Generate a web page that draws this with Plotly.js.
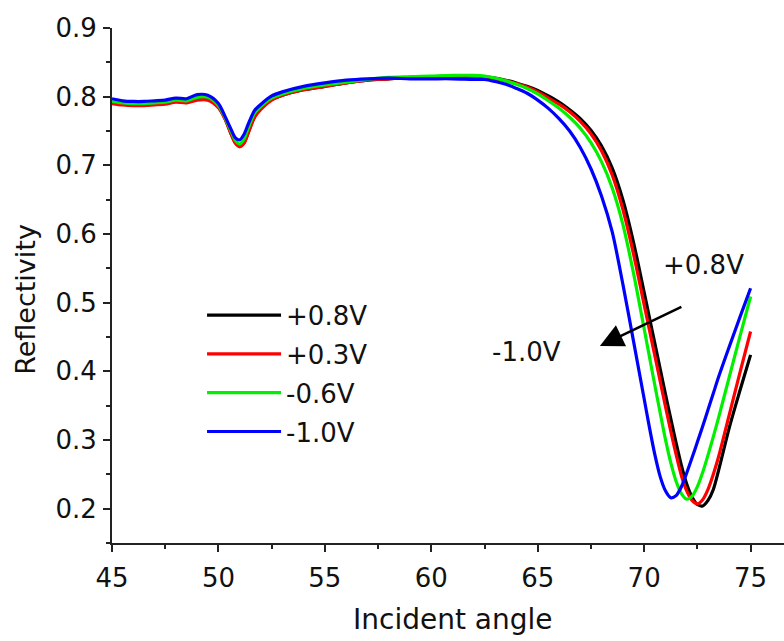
<!DOCTYPE html>
<html>
<head>
<meta charset="utf-8">
<script src="https://cdn.plot.ly/plotly-3.0.1.min.js"></script>
<style>
html,body{margin:0;padding:0;background:#fff;}
#chart{width:784px;height:641px;}
</style>
</head>
<body>
<div id="chart"></div>
<script>
// Incident angle (degrees), shared by all series
const angle = [45,45.5,46,46.5,47,47.5,48,48.5,49,49.5,50,
  50.3,50.6,50.8,51,51.2,51.4,51.7,52,52.5,
  53,54,55,56,57,58,59,60,61,62,
  62.5,63,63.5,64,64.5,65,65.5,66,66.5,67,67.5,68,68.5,69,69.5,70,
  70.25,70.5,70.75,71,71.25,71.5,71.75,72,72.25,72.5,72.75,73,73.25,73.5,
  74,74.5,75];

const seriesNames = ["+0.8V","+0.3V","-0.6V","-1.0V"];
const seriesColors = ["#000000","#ff0000","#00f000","#0000ff"];

const refl_p08 = [0.791,0.789,0.788,0.788,0.789,0.790,0.793,0.792,0.796,0.796,0.785,
  0.769,0.746,0.733,0.728,0.733,0.748,0.771,0.783,0.796,
  0.802,0.810,0.815,0.820,0.824,0.826,0.828,0.829,0.830,0.830,
  0.829,0.827,0.824,0.820,0.815,0.809,0.801,0.792,0.781,0.768,0.751,0.728,0.696,0.650,0.588,0.515,
  0.478,0.441,0.404,0.367,0.331,0.296,0.263,0.236,0.217,0.206,0.204,0.212,0.228,0.256,
  0.318,0.372,0.424];

const refl_p03 = [0.790,0.788,0.787,0.787,0.788,0.789,0.792,0.791,0.795,0.795,0.784,
  0.768,0.745,0.732,0.727,0.732,0.747,0.770,0.782,0.795,
  0.802,0.810,0.815,0.820,0.824,0.826,0.828,0.829,0.830,0.830,
  0.829,0.826,0.823,0.819,0.814,0.807,0.798,0.789,0.778,0.764,0.746,0.721,0.686,0.636,0.571,0.497,
  0.460,0.423,0.386,0.349,0.313,0.279,0.248,0.226,0.212,0.207,0.213,0.228,0.250,0.276,
  0.337,0.398,0.458];

const refl_m06 = [0.793,0.791,0.790,0.790,0.791,0.792,0.795,0.794,0.799,0.799,0.787,
  0.770,0.749,0.736,0.731,0.738,0.754,0.776,0.786,0.798,
  0.804,0.812,0.817,0.821,0.825,0.828,0.829,0.830,0.831,0.831,
  0.830,0.827,0.823,0.818,0.812,0.804,0.794,0.783,0.770,0.754,0.733,0.705,0.667,0.614,0.543,0.462,
  0.421,0.380,0.340,0.301,0.267,0.240,0.222,0.214,0.218,0.232,0.253,0.278,0.305,0.333,
  0.392,0.451,0.509];

const refl_m10 = [0.797,0.794,0.793,0.793,0.794,0.795,0.798,0.797,0.803,0.802,0.790,
  0.772,0.752,0.740,0.737,0.745,0.760,0.780,0.789,0.801,
  0.807,0.815,0.820,0.824,0.826,0.827,0.826,0.826,0.826,0.825,
  0.825,0.822,0.818,0.812,0.805,0.795,0.783,0.768,0.750,0.726,0.695,0.655,0.603,0.527,0.444,0.360,
  0.318,0.279,0.247,0.226,0.216,0.219,0.232,0.252,0.274,0.297,0.320,0.344,0.368,0.392,
  0.436,0.479,0.521];

const seriesValues = [refl_p08, refl_p03, refl_m06, refl_m10];

const xTicks = [45,50,55,60,65,70,75];
const yTicks = [0.2,0.3,0.4,0.5,0.6,0.7,0.8,0.9];

const FONT = "DejaVu Sans, Liberation Sans, Arial, sans-serif";
const TXT = "#111111";

const traces = seriesValues.map((vals, i) => ({
  x: angle,
  y: vals,
  type: "scatter",
  mode: "lines",
  name: seriesNames[i],
  legendgroup: "g" + i,
  line: {color: seriesColors[i], width: 3.2, shape: "spline", smoothing: 0.8}
}));

const layout = {
  width: 784,
  height: 641,
  margin: {l: 112, r: 0, t: 28, b: 98, pad: 0},
  paper_bgcolor: "#ffffff",
  plot_bgcolor: "#ffffff",
  font: {family: FONT, color: TXT, size: 26},
  showlegend: true,
  legend: {
    x: 0.134, y: 0.488, xanchor: "left", yanchor: "top",
    bgcolor: "rgba(0,0,0,0)",
    font: {family: FONT, size: 26, color: TXT},
    itemwidth: 74,
    tracegroupgap: 2,
    traceorder: "grouped"
  },
  xaxis: {
    range: [45, 76.57],
    tickmode: "array",
    tickvals: xTicks,
    ticktext: xTicks.map(String),
    ticks: "outside", ticklen: 7, tickwidth: 2, tickcolor: "#222",
    showline: true, linecolor: "#222", linewidth: 2,
    showgrid: false, zeroline: false,
    tickfont: {family: FONT, size: 26, color: TXT},
    ticklabelstandoff: 4,
    minor: {dtick: 2.5, tick0: 45, ticks: "outside", ticklen: 4, tickwidth: 2, tickcolor: "#222", showgrid: false}
  },
  yaxis: {
    range: [0.15, 0.9],
    tickmode: "array",
    tickvals: yTicks,
    ticktext: yTicks.map(v => v.toFixed(1)),
    ticks: "outside", ticklen: 7, tickwidth: 2, tickcolor: "#222",
    showline: true, linecolor: "#222", linewidth: 2,
    showgrid: false, zeroline: false,
    tickfont: {family: FONT, size: 26, color: TXT},
    ticklabelstandoff: 1,
    minor: {dtick: 0.05, tick0: 0.15, ticks: "outside", ticklen: 4, tickwidth: 2, tickcolor: "#222", showgrid: false}
  },
  annotations: [
    {xref: "paper", yref: "paper", x: (453 - 112) / 672, y: (543.3 - 620) / 515.3,
     xanchor: "center", yanchor: "middle", text: "Incident angle", showarrow: false,
     font: {family: FONT, size: 28, color: TXT}},
    {xref: "paper", yref: "paper", x: (26 - 112) / 672, y: (543.3 - 300) / 515.3,
     xanchor: "center", yanchor: "middle", text: "Reflectivity", textangle: -90, showarrow: false,
     font: {family: FONT, size: 27, color: TXT}},
    {x: 72.8, y: 0.555, xref: "x", yref: "y", text: "+0.8V", showarrow: false,
     font: {family: FONT, size: 26, color: TXT}},
    {x: 64.49, y: 0.428, xref: "x", yref: "y", text: "-1.0V", showarrow: false,
     font: {family: FONT, size: 26, color: TXT}},
    {x: 67.92, y: 0.437, ax: 71.82, ay: 0.495, xref: "x", yref: "y", axref: "x", ayref: "y",
     text: "", showarrow: true, arrowhead: 2, arrowsize: 1.8, arrowwidth: 2.6, arrowcolor: "#000"}
  ]
};

Plotly.newPlot("chart", traces, layout, {displayModeBar: false, staticPlot: true});
</script>
</body>
</html>
